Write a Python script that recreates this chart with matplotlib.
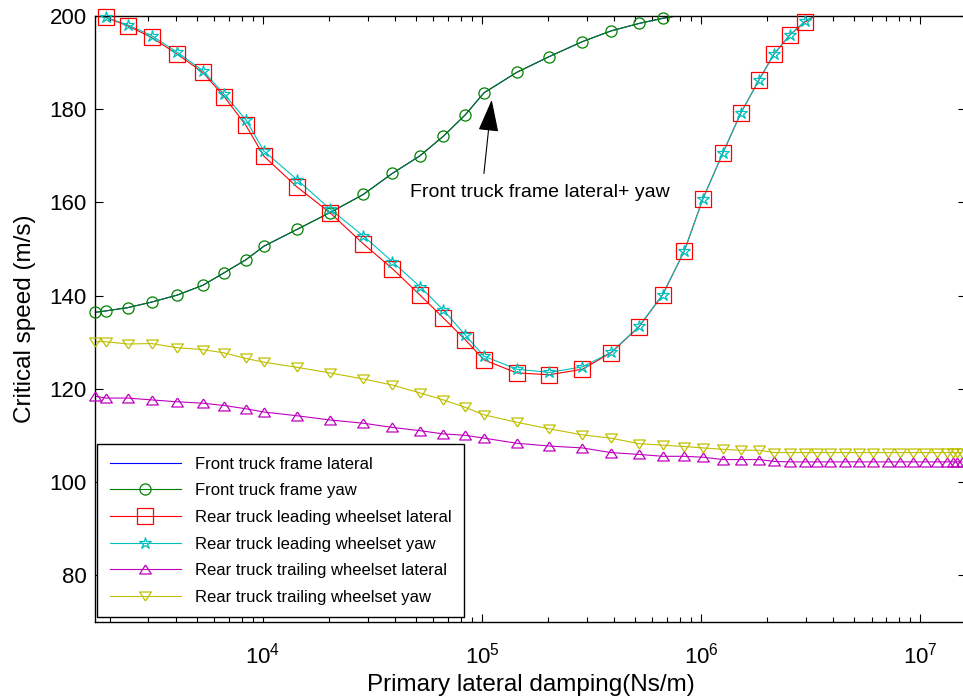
import numpy as np
import matplotlib
matplotlib.use("Agg")
import matplotlib.pyplot as plt
from matplotlib.lines import Line2D
from matplotlib.ticker import LogLocator, FixedLocator, NullFormatter

plt.rcParams['font.family'] = ['Liberation Sans', 'DejaVu Sans']

# ---- data ----
damping = [1710, 1910, 2410, 3100, 4060, 5310, 6650, 8360, 10100, 14300,
           20200, 28700, 38900, 52100, 66600, 83900, 102000, 144000, 203000, 287000,
           388000, 521000, 667000, 839000, 1.02e6, 1.26e6, 1.52e6, 1.84e6, 2.15e6, 2.55e6,
           2.98e6, 3.40e6, 3.88e6, 4.55e6, 5.28e6, 6.08e6, 7.10e6, 8.10e6, 9.27e6, 1.05e7,
           1.20e7, 1.32e7, 1.41e7, 1.48e7, 1.55e7]

front_yaw = [136.4, 136.7, 137.4, 138.6, 140.1, 142.2, 144.9, 147.7, 150.6, 154.2,
             157.8, 161.7, 166.2, 170.0, 174.2, 178.8, 183.5, 187.9, 191.3, 194.5,
             196.8, 198.4, 199.5, 200.3, 200.3, 200.3, 200.3, 200.3, 200.3, 200.3,
             200.3, 200.3, 200.3, 200.3, 200.3, 200.3, 200.3, 200.3, 200.3, 200.3,
             200.3, 200.3, 200.3, 200.3, 200.3]
front_lateral = list(front_yaw)

rear_lead_lateral = [200.3, 199.7, 197.9, 195.4, 191.8, 187.9, 182.7, 176.5, 169.9, 163.3,
                     157.8, 151.1, 145.8, 140.1, 135.2, 130.5, 126.2, 123.4, 123.0, 124.2,
                     127.7, 133.3, 140.1, 149.6, 160.8, 170.7, 179.2, 186.3, 191.8, 196.0,
                     198.7, 200.3, 200.3, 200.3, 200.3, 200.3, 200.3, 200.3, 200.3, 200.3,
                     200.3, 200.3, 200.3, 200.3, 200.3]

rear_lead_yaw = [200.3, 199.7, 198.1, 195.8, 192.2, 188.3, 183.2, 177.7, 171.0, 164.9,
                 158.6, 152.8, 147.3, 141.9, 136.9, 131.5, 127.0, 124.2, 123.5, 124.7,
                 127.8, 133.4, 140.2, 149.6, 160.8, 170.7, 179.2, 186.3, 191.8, 196.0,
                 198.9, 200.3, 200.3, 200.3, 200.3, 200.3, 200.3, 200.3, 200.3, 200.3,
                 200.3, 200.3, 200.3, 200.3, 200.3]

rear_trail_lateral = [118.4, 118.0, 118.0, 117.6, 117.2, 116.9, 116.4, 115.7, 115.0, 114.2,
                      113.3, 112.6, 111.7, 111.0, 110.3, 110.0, 109.4, 108.3, 107.7, 107.3,
                      106.3, 105.9, 105.5, 105.5, 105.3, 104.8, 104.8, 104.8, 104.4, 104.3,
                      104.3, 104.3, 104.3, 104.3, 104.3, 104.3, 104.3, 104.3, 104.3, 104.3,
                      104.3, 104.3, 104.3, 104.3, 104.3]

rear_trail_yaw = [130.1, 130.1, 129.6, 129.7, 128.8, 128.4, 127.7, 126.5, 125.7, 124.6,
                  123.4, 122.1, 120.8, 119.1, 117.6, 116.0, 114.4, 112.8, 111.4, 110.1,
                  109.4, 108.2, 107.9, 107.6, 107.3, 107.0, 106.8, 106.8, 106.3, 106.3,
                  106.3, 106.3, 106.3, 106.3, 106.3, 106.3, 106.3, 106.3, 106.3, 106.3,
                  106.3, 106.3, 106.3, 106.3, 106.3]

labels = ["Front truck frame lateral", "Front truck frame yaw",
          "Rear truck leading wheelset lateral", "Rear truck leading wheelset yaw",
          "Rear truck trailing wheelset lateral", "Rear truck trailing wheelset yaw"]
y_ticks = [80, 100, 120, 140, 160, 180, 200]
annotation_text = "Front truck frame lateral+ yaw"

# ---- style ----
up_tri = [(0, 0.77), (-1, -0.77), (1, -0.77), (0, 0.77)]
down_tri = [(0, -0.77), (-1, 0.77), (1, 0.77), (0, -0.77)]
styles = [
    dict(color=(0, 0, 1), marker=None, ms=0),
    dict(color=(0, 0.5, 0), marker='o', ms=8),
    dict(color=(1, 0, 0), marker='s', ms=11),
    dict(color=(0, 0.75, 0.75), marker='*', ms=9),
    dict(color=(0.75, 0, 0.75), marker=up_tri, ms=8.4),
    dict(color=(0.75, 0.75, 0), marker=down_tri, ms=8.4),
]
series = [front_lateral, front_yaw, rear_lead_lateral, rear_lead_yaw,
          rear_trail_lateral, rear_trail_yaw]

W, H = 963, 696
fig = plt.figure(figsize=(W / 100, H / 100), dpi=100)
ax_l, ax_r, ax_t, ax_b = 95, 966, 16, 621.7
ax = fig.add_axes([ax_l / W, 1 - ax_b / H, (ax_r - ax_l) / W, (ax_b - ax_t) / H])

x = np.array(damping, dtype=float)
handles = []
for vals, st, lab in zip(series, styles, labels):
    y = np.array(vals, dtype=float)
    ax.plot(x, y, '-', color=st['color'], lw=0.8, zorder=2)
    if st['marker'] is not None:
        mask = y <= 200
        ax.plot(x[mask], y[mask], linestyle='none', marker=st['marker'], ms=st['ms'],
                mfc='none', mec=st['color'], mew=0.9, clip_on=False, zorder=3)
    handles.append(Line2D([], [], color=st['color'], lw=0.8,
                          marker=st['marker'] if st['marker'] is not None else None,
                          ms=st['ms'], mfc='none', mec=st['color'], mew=0.9))

ax.set_xscale('log')
ax.set_xlim(1710, 1.62e7)
ax.set_ylim(70, 200)
ax.yaxis.set_major_locator(FixedLocator(y_ticks))
ax.xaxis.set_major_locator(LogLocator(base=10, numticks=20))
ax.xaxis.set_minor_locator(LogLocator(base=10, subs=np.arange(2, 10), numticks=20))
ax.xaxis.set_minor_formatter(NullFormatter())

ax.tick_params(axis='both', which='both', direction='in', top=True, right=True,
               colors='black', width=0.8)
ax.tick_params(axis='both', which='major', length=6, labelsize=16)
ax.tick_params(axis='x', which='minor', length=3.5)
ax.tick_params(axis='y', which='major', pad=6)
ax.tick_params(axis='x', which='major', pad=15)
for sp in ax.spines.values():
    sp.set_linewidth(1.0)
    sp.set_color('black')

ax.set_xlabel("Primary lateral damping(Ns/m)", fontsize=17.5, labelpad=4)
ax.set_ylabel("Critical speed (m/s)", fontsize=17.5, labelpad=10)

# annotation: text and arrow
ax.text(1.84e5, 162.2, annotation_text, fontsize=14, ha='center', va='center')
ax.annotate('', xy=(1.107e5, 182.0), xytext=(1.02e5, 166.2),
            arrowprops=dict(arrowstyle='-|>,head_length=1.45,head_width=0.46',
                            color='black', lw=0.8, shrinkA=0, shrinkB=0,
                            mutation_scale=14))

leg = ax.legend(handles, labels, loc='upper left',
                bbox_to_anchor=((97 - ax_l) / (ax_r - ax_l), (ax_b - 444) / (ax_b - ax_t)),
                borderaxespad=0, fontsize=12, handlelength=4.3, handletextpad=0.85,
                labelspacing=0.70, borderpad=0.75, fancybox=False, framealpha=1,
                edgecolor='black')
leg.get_frame().set_linewidth(1.0)

fig.savefig("out.png", dpi=100)
